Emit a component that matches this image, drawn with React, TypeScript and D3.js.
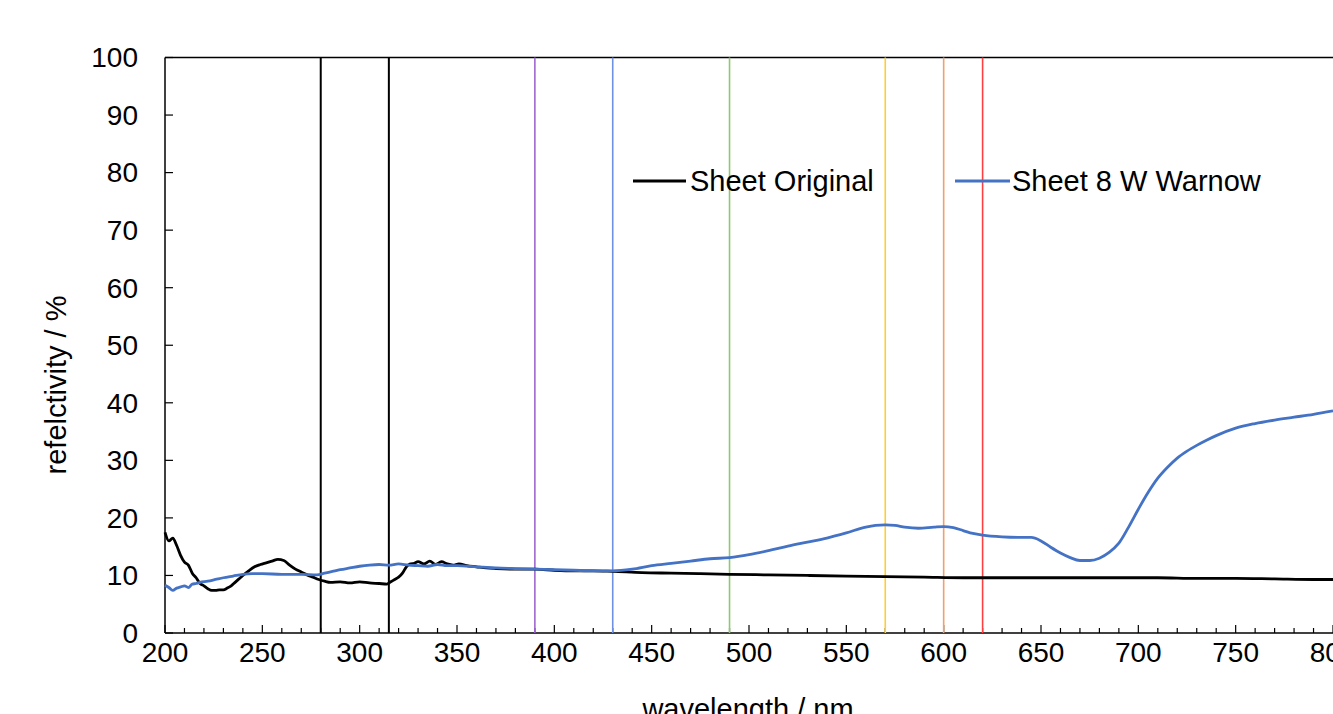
import React from "react";
import * as d3 from "d3";

// Sheet Original (black)
const origWl = [200, 202, 204, 206, 208, 210, 212, 214, 216, 218, 220, 222, 224, 226, 228, 230, 232, 234, 236, 238, 240, 243, 246, 249, 252, 255, 258, 261, 264, 267, 270, 273, 276, 279, 282, 285, 290, 295, 300, 305, 310, 314, 316, 318, 320, 322, 324, 326, 328, 330, 333, 336, 339, 342, 345, 348, 351, 355, 360, 365, 370, 380, 390, 400, 410, 420, 430, 445, 460, 475, 490, 510, 530, 550, 570, 590, 610, 630, 650, 670, 690, 710, 730, 750, 770, 790, 800];
const origVal = [17.5, 16, 16.5, 15.2, 13.5, 12.3, 11.8, 10.4, 9.6, 8.6, 8.2, 7.7, 7.4, 7.4, 7.5, 7.5, 7.8, 8.2, 8.8, 9.4, 10, 10.8, 11.5, 11.9, 12.2, 12.5, 12.8, 12.6, 11.8, 11.1, 10.6, 10.1, 9.7, 9.3, 9.0, 8.8, 8.9, 8.7, 8.9, 8.7, 8.6, 8.5, 8.9, 9.3, 9.7, 10.4, 11.5, 12.0, 12.1, 12.4, 12.0, 12.5, 11.9, 12.4, 12.0, 11.8, 12.0, 11.7, 11.5, 11.3, 11.2, 11.1, 11.1, 10.9, 10.8, 10.8, 10.7, 10.5, 10.4, 10.3, 10.2, 10.1, 10.0, 9.9, 9.8, 9.7, 9.6, 9.6, 9.6, 9.6, 9.6, 9.6, 9.5, 9.5, 9.4, 9.3, 9.3];

// Sheet 8 W Warnow (blue)
const warnWl = [200, 202, 204, 206, 208, 210, 212, 214, 216, 218, 222, 226, 230, 235, 240, 245, 250, 260, 270, 278, 282, 286, 290, 295, 300, 305, 310, 315, 320, 325, 330, 335, 340, 345, 350, 360, 370, 380, 390, 400, 410, 420, 430, 440, 450, 460, 470, 480, 490, 500, 510, 520, 530, 540, 550, 560, 565, 570, 575, 580, 587, 595, 600, 605, 610, 615, 620, 630, 640, 645, 650, 655, 660, 665, 670, 675, 680, 685, 690, 695, 700, 705, 710, 715, 720, 725, 730, 735, 740, 750, 760, 770, 780, 790, 800];
const warnVal = [8.3, 7.9, 7.4, 7.8, 8.0, 8.2, 7.9, 8.5, 8.6, 8.8, 9.0, 9.3, 9.6, 9.9, 10.2, 10.3, 10.3, 10.2, 10.2, 10.1, 10.4, 10.7, 11.0, 11.3, 11.6, 11.8, 11.9, 11.8, 12.0, 11.8, 11.7, 11.6, 11.9, 11.7, 11.7, 11.5, 11.3, 11.2, 11.1, 11.0, 10.9, 10.8, 10.8, 11.1, 11.7, 12.1, 12.5, 12.9, 13.1, 13.6, 14.3, 15.1, 15.8, 16.5, 17.4, 18.4, 18.7, 18.8, 18.7, 18.4, 18.2, 18.4, 18.5, 18.3, 17.8, 17.3, 17.0, 16.7, 16.6, 16.6, 16.0, 14.9, 13.9, 13.1, 12.6, 12.6, 13.0, 14.0, 15.6, 18.4, 21.5, 24.4, 26.9, 28.8, 30.4, 31.6, 32.6, 33.5, 34.3, 35.6, 36.4, 37.0, 37.5, 38.0, 38.6];

const markerWl = [280, 315, 390, 430, 490, 570, 600, 620];
const markerColors = ["#000000", "#000000", "#a066d0", "#7090e0", "#90c870", "#ffcc33", "#f0a070", "#ff4040"];

const xTicks = [200, 250, 300, 350, 400, 450, 500, 550, 600, 650, 700, 750, 800];
const yTicks = [0, 10, 20, 30, 40, 50, 60, 70, 80, 90, 100];

const W = 1333;
const H = 714;
const left = 165;
const right = 1333;
const top = 57.5;
const bottom = 633;
const font = "Liberation Sans, Arial, sans-serif";

export default function App() {
  const x = d3.scaleLinear().domain([200, 800]).range([left, right]);
  const y = d3.scaleLinear().domain([0, 100]).range([bottom, top]);

  const line = d3
    .line<[number, number]>()
    .x((d) => x(d[0]))
    .y((d) => y(d[1]))
    .curve(d3.curveMonotoneX);

  const origPath = line(origWl.map((w, i) => [w, origVal[i]]));
  const warnPath = line(warnWl.map((w, i) => [w, warnVal[i]]));
  const minor = d3.range(200, 801, 10).filter((v) => v % 50 !== 0);

  return (
    <svg width={W} height={H} style={{ position: "absolute", left: 0, top: 0, background: "#fff" }} fontFamily={font}>
      {/* frame */}
      <line x1={left} x2={right} y1={top} y2={top} stroke="#000" strokeWidth={1.5} />
      <line x1={left} x2={left} y1={top} y2={bottom} stroke="#000" strokeWidth={1.5} />
      <line x1={left} x2={right} y1={bottom} y2={bottom} stroke="#000" strokeWidth={1.5} />

      {/* ticks */}
      {yTicks.map((t) => (
        <g key={"y" + t}>
          <line x1={left} x2={left + 8} y1={y(t)} y2={y(t)} stroke="#000" strokeWidth={1.2} />
          <text x={left - 27} y={y(t)} dy="0.35em" textAnchor="end" fontSize={28}>
            {t}
          </text>
        </g>
      ))}
      {xTicks.map((t) => (
        <g key={"x" + t}>
          <line x1={x(t)} x2={x(t)} y1={bottom} y2={bottom - 8} stroke="#000" strokeWidth={1.2} />
          <text x={x(t)} y={662} textAnchor="middle" fontSize={28}>
            {t}
          </text>
        </g>
      ))}
      {minor.map((t) => (
        <line key={"m" + t} x1={x(t)} x2={x(t)} y1={bottom} y2={bottom - 5} stroke="#000" strokeWidth={1.2} />
      ))}

      {/* marker lines */}
      {markerWl.map((w, i) => (
        <line
          key={"mk" + w}
          x1={x(w)}
          x2={x(w)}
          y1={top}
          y2={bottom}
          stroke={markerColors[i]}
          strokeWidth={i < 2 ? 2 : 1.6}
        />
      ))}

      {/* series */}
      <path d={origPath || ""} fill="none" stroke="#000" strokeWidth={2.8} strokeLinejoin="round" />
      <path d={warnPath || ""} fill="none" stroke="#4472c4" strokeWidth={2.8} strokeLinejoin="round" />

      {/* legend */}
      <line x1={633} x2={686} y1={181} y2={181} stroke="#000" strokeWidth={2.8} />
      <text x={690} y={181} dy="0.35em" fontSize={29}>
        Sheet Original
      </text>
      <line x1={955} x2={1010} y1={181} y2={181} stroke="#4472c4" strokeWidth={2.8} />
      <text x={1012} y={181} dy="0.35em" fontSize={29}>
        Sheet 8 W Warnow
      </text>

      {/* axis titles */}
      <text
        transform={`translate(66,385) rotate(-90)`}
        textAnchor="middle"
        fontSize={29}
      >
        refelctivity / %
      </text>
      <text x={748} y={719} textAnchor="middle" fontSize={29}>
        wavelength / nm
      </text>
    </svg>
  );
}
